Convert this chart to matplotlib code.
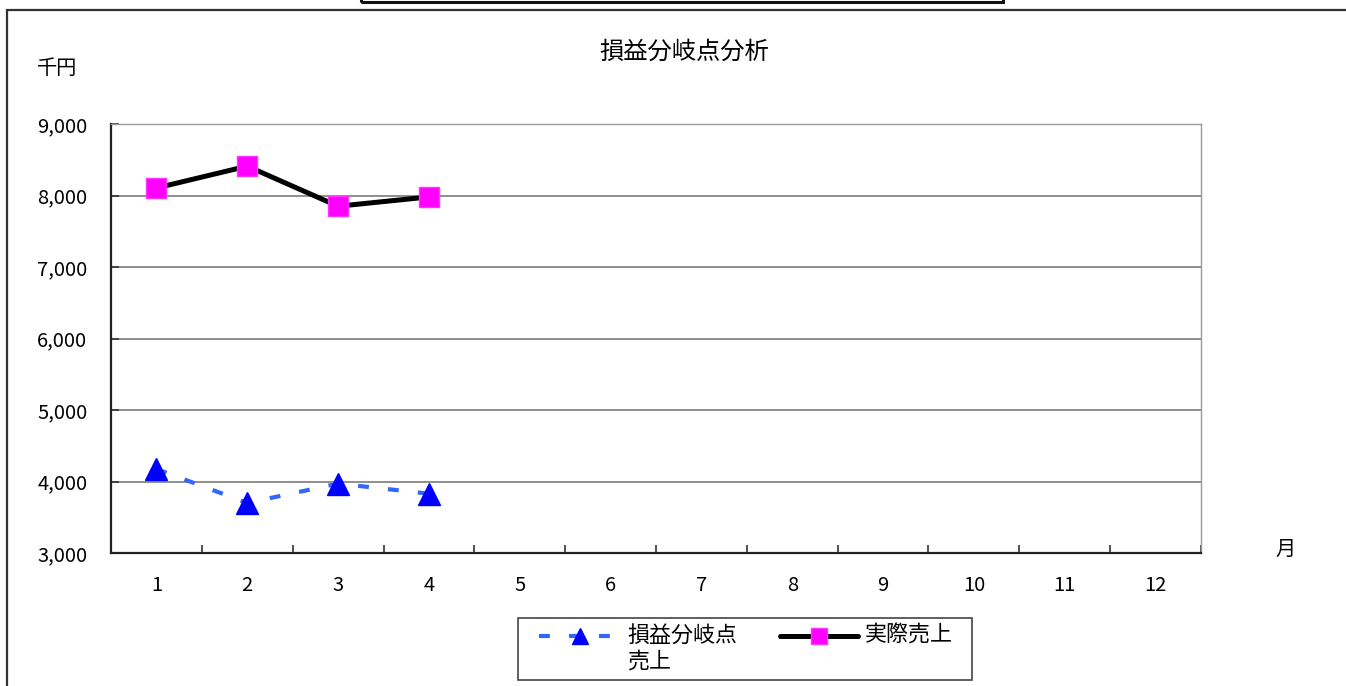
import numpy as np
import matplotlib
matplotlib.use("Agg")
import matplotlib.pyplot as plt
from matplotlib.lines import Line2D
from matplotlib.patches import Rectangle
from matplotlib.ticker import FixedLocator, StrMethodFormatter

plt.rcParams["font.family"] = ["Noto Sans CJK JP", "DejaVu Sans"]

# ── Data ─────────────────────────────────────────────────────────────────────
months = ["1", "2", "3", "4", "5", "6", "7", "8", "9", "10", "11", "12"]
breakeven_sales = [4175, 3700, 3970, 3830]   # 損益分岐点売上
actual_sales = [8105, 8410, 7850, 7980]      # 実際売上
y_ticks = [3000, 4000, 5000, 6000, 7000, 8000, 9000]

TITLE = "損益分岐点分析"
Y_UNIT = "千円"
X_UNIT = "月"
LABEL_BE = "損益分岐点\n売上"
LABEL_ACT = "実際売上"

# ── Figure geometry (pixels) ─────────────────────────────────────────────────
W, H = 1346, 686


def fx(x):
    return x / W


def fy(y):
    return 1 - y / H


BE_STYLE = dict(color="#3366FF", lw=3.0, dashes=(2.6, 4.6),
                marker="^", ms=16.5, mfc="#0000FF", mec="#0000FF")
ACT_STYLE = dict(color="black", lw=3.6, solid_capstyle="round",
                 marker="s", ms=15, mfc="#FF00FF", mec="#FF33FF")

fig = plt.figure(figsize=(W / 100, H / 100), dpi=100)
ax = fig.add_axes([fx(111), fy(553), fx(1201) - fx(111), fy(124) - fy(553)])

x = np.arange(len(months))
ax.plot(x[:len(breakeven_sales)], breakeven_sales, **BE_STYLE, zorder=3)
ax.plot(x[:len(actual_sales)], actual_sales, **ACT_STYLE, zorder=4)

ax.set_xlim(-0.5, len(months) - 0.5)
ax.set_ylim(y_ticks[0], y_ticks[-1])

# category labels at centres, tick marks at boundaries
ax.set_xticks(x)
ax.set_xticklabels(months)
ax.xaxis.set_minor_locator(FixedLocator(np.arange(-0.5, len(months), 1.0)))
ax.tick_params(axis="x", which="major", length=0, pad=16, labelsize=14.5)
ax.tick_params(axis="x", which="minor", direction="in", length=6,
               width=1.2, color="#333333")

ax.set_yticks(y_ticks)
ax.yaxis.set_major_formatter(StrMethodFormatter("{x:,.0f}"))
ax.tick_params(axis="y", direction="in", length=6, width=1.2,
               color="#333333", pad=17, labelsize=14.5)

for v in y_ticks[1:-1]:
    ax.axhline(v, color="#707070", lw=1.1, zorder=1)

for side in ("left", "bottom"):
    ax.spines[side].set_color("#222222")
    ax.spines[side].set_linewidth(1.6)
for side in ("top", "right"):
    ax.spines[side].set_color("#999999")
    ax.spines[side].set_linewidth(1.0)
    ax.spines[side].set_linestyle((0, (1, 1)))

# ── Texts ────────────────────────────────────────────────────────────────────
fig.text(fx(684), fy(52), TITLE, ha="center", va="center", fontsize=17.5)
fig.text(fx(37), fy(68), Y_UNIT, ha="left", va="center", fontsize=14.5)
fig.text(fx(1286), fy(549), X_UNIT, ha="center", va="center", fontsize=14.5)

# ── Legend (drawn by hand to keep the wrapped label layout) ──────────────────
fig.add_artist(Rectangle((fx(518), fy(680)), fx(972) - fx(518),
                         fy(618) - fy(680), transform=fig.transFigure,
                         fill=False, ec="#444444", lw=1.2))
be_line = {k: v for k, v in BE_STYLE.items() if k not in ("marker", "ms", "mfc", "mec")}
act_line = {k: v for k, v in ACT_STYLE.items() if k not in ("marker", "ms", "mfc", "mec")}
fig.add_artist(Line2D([fx(539), fx(612)], [fy(636), fy(636)],
                      transform=fig.transFigure, **be_line))
fig.add_artist(Line2D([fx(580)], [fy(636)], transform=fig.transFigure,
                      ls="none", marker="^", ms=11, mfc="#0000FF", mec="#0000FF"))
fig.text(fx(627), fy(636), LABEL_BE.split("\n")[0], ha="left", va="center", fontsize=15.8)
fig.text(fx(627), fy(662), LABEL_BE.split("\n")[1], ha="left", va="center", fontsize=15.8)

fig.add_artist(Line2D([fx(780), fx(858)], [fy(636), fy(636)],
                      transform=fig.transFigure, **act_line))
fig.add_artist(Line2D([fx(819)], [fy(636)], transform=fig.transFigure,
                      ls="none", marker="s", ms=11, mfc="#FF00FF", mec="#FF33FF"))
fig.text(fx(865), fy(636), LABEL_ACT, ha="left", va="center", fontsize=15.8)

# ── Outer chart frame and the box above it ───────────────────────────────────
fig.add_artist(Rectangle((fx(7), fy(H + 20)), fx(W + 40), fy(10) - fy(H + 20),
                         transform=fig.transFigure, fill=False,
                         ec="#333333", lw=1.6))
fig.add_artist(Rectangle((fx(361), fy(2)), fx(1003) - fx(361), fy(-30) - fy(2),
                         transform=fig.transFigure, fill=False,
                         ec="#111111", lw=2.2))

fig.savefig("out.png", dpi=100)
